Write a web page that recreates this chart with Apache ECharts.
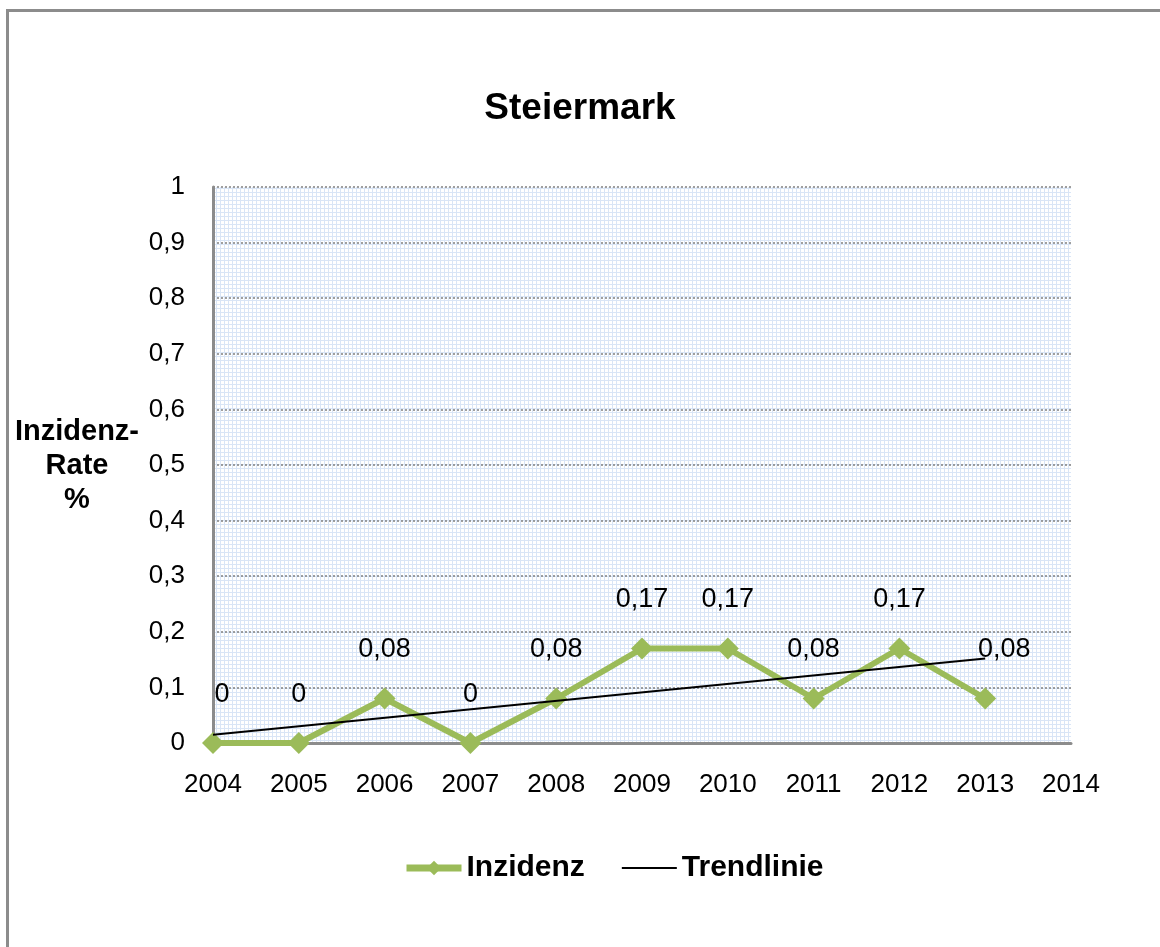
<!DOCTYPE html>
<html>
<head>
<meta charset="utf-8">
<script src="https://cdn.jsdelivr.net/npm/echarts@6/dist/echarts.min.js"></script>
<style>
html,body{margin:0;padding:0;background:#fff;}
#c{width:1160px;height:947px;}
</style>
</head>
<body>
<div id="c"></div>
<script>
var years = [2004, 2005, 2006, 2007, 2008, 2009, 2010, 2011, 2012, 2013];
var inzidenz = [0, 0, 0.08, 0, 0.08, 0.17, 0.17, 0.08, 0.17, 0.08];
var trendYears = [2004, 2013];
var trendValues = [0.015, 0.152];

var FONT = '"Liberation Sans", Arial, sans-serif';

// fine light-blue grid pattern for plot background
var pc = document.createElement('canvas');
pc.width = 4; pc.height = 4;
var pctx = pc.getContext('2d');
pctx.fillStyle = '#ffffff';
pctx.fillRect(0, 0, 4, 4);
pctx.fillStyle = '#d9e5f6';
pctx.fillRect(0, 0, 4, 1);
pctx.fillRect(0, 0, 1, 4);

var chart = echarts.init(document.getElementById('c'));

var labelOffsets = {0: [9, 0], 9: [19, 0]};

var option = {
  animation: false,
  backgroundColor: '#ffffff',
  textStyle: {fontFamily: FONT},
  title: {
    text: 'Steiermark',
    left: 'center',
    top: 85,
    textStyle: {fontFamily: FONT, fontSize: 37, fontWeight: 'bold', color: '#000'}
  },
  graphic: [
    {
      type: 'rect',
      shape: {x: 7.5, y: 10.5, width: 1300, height: 1100},
      style: {fill: 'none', stroke: '#8c8c8c', lineWidth: 3},
      silent: true
    },
    {
      type: 'text',
      style: {
        text: 'Inzidenz-\nRate\n%',
        font: 'bold 29px ' + FONT,
        fill: '#000',
        align: 'center',
        verticalAlign: 'top',
        lineHeight: 34,
        x: 77,
        y: 415
      }
    }
  ],
  legend: {
    left: 398,
    top: 848,
    itemWidth: 55,
    itemHeight: 18,
    itemGap: 37,
    textStyle: {fontFamily: FONT, fontSize: 30, fontWeight: 'bold', color: '#000'},
    data: [
      {name: 'Inzidenz', lineStyle: {width: 7}},
      {name: 'Trendlinie', icon: 'path://M0,0 M0,8 L55,8 L55,10 L0,10 Z M55,18'}
    ]
  },
  grid: {
    left: 213,
    right: 89,
    top: 187,
    bottom: 204,
    show: true,
    borderWidth: 0,
    backgroundColor: {image: pc, repeat: 'repeat'}
  },
  xAxis: {
    type: 'value',
    min: 2004,
    max: 2014,
    interval: 1,
    axisLine: {show: true, onZero: false, lineStyle: {color: '#8c8c8c', width: 3}},
    axisTick: {show: false},
    splitLine: {show: false},
    axisLabel: {
      margin: 29,
      fontSize: 26,
      color: '#000',
      fontFamily: FONT,
      formatter: function (v) { return String(v); }
    }
  },
  yAxis: {
    type: 'value',
    min: 0,
    max: 1,
    interval: 0.1,
    axisLine: {show: true, lineStyle: {color: '#8c8c8c', width: 3}},
    axisTick: {show: false},
    splitLine: {show: true, lineStyle: {color: '#808080', type: [2, 2], width: 1.5}},
    axisLabel: {
      margin: 28,
      fontSize: 26,
      color: '#000',
      fontFamily: FONT,
      formatter: function (v) { return String(+v.toFixed(2)).replace('.', ','); }
    }
  },
  series: [
    {
      name: 'Inzidenz',
      type: 'line',
      z: 3,
      data: years.map(function (y, i) {
        var d = {value: [y, inzidenz[i]]};
        if (labelOffsets[i]) d.label = {offset: labelOffsets[i]};
        return d;
      }),
      symbol: 'diamond',
      symbolSize: 22,
      lineStyle: {color: '#9bbb59', width: 6},
      itemStyle: {color: '#9bbb59'},
      label: {
        show: true,
        position: 'top',
        distance: 24,
        fontSize: 27,
        color: '#000',
        fontFamily: FONT,
        formatter: function (p) { return String(p.value[1]).replace('.', ','); }
      }
    },
    {
      name: 'Trendlinie',
      type: 'line',
      z: 4,
      data: trendYears.map(function (y, i) { return [y, trendValues[i]]; }),
      symbol: 'none',
      lineStyle: {color: '#000', width: 2},
      itemStyle: {color: '#000'}
    }
  ]
};

chart.setOption(option);
</script>
</body>
</html>
